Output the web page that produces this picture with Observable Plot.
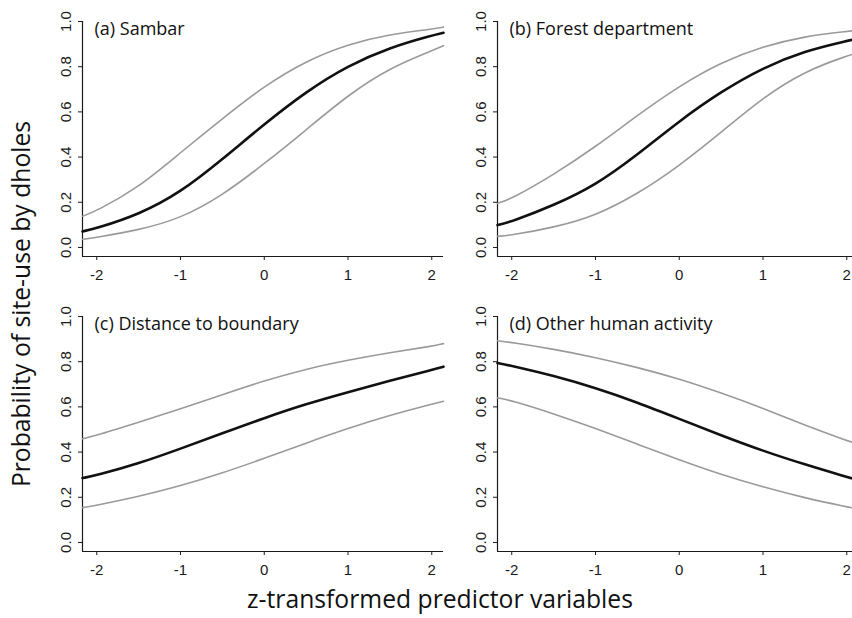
<!DOCTYPE html>
<html>
<head>
<meta charset="utf-8">
<script src="https://cdn.jsdelivr.net/npm/d3@7"></script>
<script src="https://cdn.jsdelivr.net/npm/@observablehq/plot@0.6"></script>
<style>
  html, body { margin: 0; padding: 0; background: #fff; }
  #wrap { position: relative; width: 852px; height: 618px; overflow: hidden; background: #fff; }
  .panel { position: absolute; }
  .panel svg { max-width: none !important; }
  .title { position: absolute; left: 0; top: 0; white-space: nowrap; font-family: "Open Sans", "Noto Sans", sans-serif; font-size: 24.7px; line-height: 1; color: #111; }
</style>
</head>
<body>
<div id="wrap"></div>
<script>
// z-transformed predictor values at which the curves were read
const xs = [-2.17, -2, -1.5, -1, -0.5, 0, 0.5, 1, 1.5, 2, 2.14];
const xTicks = [-2, -1, 0, 1, 2];
const yTicks = [0, 0.2, 0.4, 0.6, 0.8, 1.0];

// (a) Sambar
const sambarMid   = [0.071, 0.085, 0.145, 0.243, 0.390, 0.546, 0.690, 0.805, 0.885, 0.938, 0.950];
const sambarUpper = [0.138, 0.162, 0.265, 0.420, 0.570, 0.715, 0.826, 0.900, 0.944, 0.966, 0.975];
const sambarLower = [0.036, 0.045, 0.077, 0.128, 0.230, 0.370, 0.520, 0.675, 0.795, 0.870, 0.893];

// (b) Forest department
const forestMid   = [0.099, 0.115, 0.186, 0.275, 0.410, 0.560, 0.690, 0.796, 0.870, 0.914, 0.925];
const forestUpper = [0.195, 0.216, 0.322, 0.445, 0.585, 0.715, 0.820, 0.890, 0.935, 0.956, 0.962];
const forestLower = [0.049, 0.055, 0.088, 0.140, 0.236, 0.361, 0.509, 0.664, 0.780, 0.848, 0.862];

// (c) Distance to boundary
const distMid   = [0.285, 0.297, 0.349, 0.415, 0.483, 0.551, 0.613, 0.665, 0.716, 0.763, 0.778];
const distUpper = [0.459, 0.474, 0.532, 0.591, 0.654, 0.716, 0.768, 0.807, 0.841, 0.868, 0.880];
const distLower = [0.154, 0.165, 0.203, 0.250, 0.307, 0.372, 0.440, 0.505, 0.563, 0.612, 0.625];

// (d) Other human activity
const humanMid   = [0.794, 0.782, 0.738, 0.684, 0.620, 0.547, 0.474, 0.405, 0.345, 0.290, 0.275];
const humanUpper = [0.893, 0.885, 0.856, 0.819, 0.775, 0.724, 0.662, 0.594, 0.518, 0.451, 0.435];
const humanLower = [0.640, 0.628, 0.570, 0.505, 0.435, 0.365, 0.300, 0.245, 0.197, 0.158, 0.148];

const panelLabels = ["(a) Sambar", "(b) Forest department", "(c) Distance to boundary", "(d) Other human activity"];
const xTitle = "z-transformed predictor variables";
const yTitle = "Probability of site-use by dholes";

const panels = [
  {label: panelLabels[0], mid: sambarMid, hi: sambarUpper, lo: sambarLower, left: 0, top: 0},
  {label: panelLabels[1], mid: forestMid, hi: forestUpper, lo: forestLower, left: 415, top: 0},
  {label: panelLabels[2], mid: distMid, hi: distUpper, lo: distLower, left: 0, top: 295},
  {label: panelLabels[3], mid: humanMid, hi: humanUpper, lo: humanLower, left: 415, top: 295}
];

const rows = (vals) => xs.map((x, i) => ({x, y: vals[i]}));

function makePanel(p) {
  return Plot.plot({
    width: 450, height: 300,
    marginLeft: 82, marginRight: 7, marginTop: 21, marginBottom: 44,
    x: {domain: [-2.17, 2.14]},
    y: {domain: [-0.04, 1]},
    style: {background: "transparent", fontFamily: "'Liberation Sans', Arial, sans-serif", fontSize: "15px", color: "#1a1a1a", overflow: "visible"},
    marks: [
      Plot.axisX({ticks: xTicks, tickSize: 4, tickPadding: 9, tickFormat: d => String(d), label: null}),
      Plot.axisY({ticks: yTicks, tickSize: 4, tickPadding: 8, tickRotate: -90, tickFormat: d3.format(".1f"), label: null}),
      Plot.ruleY([-0.04], {stroke: "#1a1a1a", strokeWidth: 1.2}),
      Plot.ruleX([-2.17], {y1: -0.04, y2: 1, stroke: "#1a1a1a", strokeWidth: 1.2}),
      Plot.line(rows(p.hi), {x: "x", y: "y", stroke: "#9a9a9a", strokeWidth: 1.6, curve: "basis"}),
      Plot.line(rows(p.lo), {x: "x", y: "y", stroke: "#9a9a9a", strokeWidth: 1.6, curve: "basis"}),
      Plot.line(rows(p.mid), {x: "x", y: "y", stroke: "#111", strokeWidth: 2.6, curve: "basis"}),
      Plot.text([p.label], {frameAnchor: "top-left", dx: 12, dy: 13, lineAnchor: "bottom", textAnchor: "start",
        fontFamily: "'Open Sans', 'Noto Sans', sans-serif", fontSize: 18, fill: "#111"})
    ]
  });
}

const wrap = document.getElementById("wrap");
for (const p of panels) {
  const div = document.createElement("div");
  div.className = "panel";
  div.style.left = p.left + "px";
  div.style.top = p.top + "px";
  div.appendChild(makePanel(p));
  wrap.appendChild(div);
}

const xt = document.createElement("div");
xt.className = "title";
xt.textContent = xTitle;
xt.style.transform = "translate(440px, 587px) translateX(-50%)";
wrap.appendChild(xt);

const yt = document.createElement("div");
yt.className = "title";
yt.textContent = yTitle;
yt.style.transformOrigin = "0 0";
yt.style.transform = "translate(9px, 304px) rotate(-90deg) translateX(-50%)";
wrap.appendChild(yt);
</script>
</body>
</html>
